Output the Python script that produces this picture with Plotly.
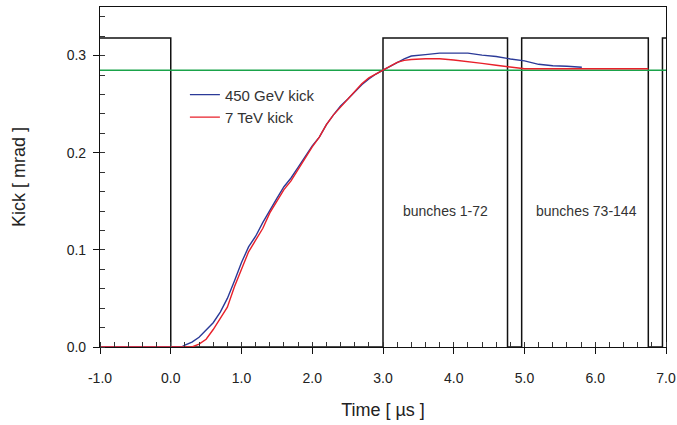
import plotly.graph_objects as go

# ---- data ----
blue_t = [-1.0, 0.0, 0.15, 0.2, 0.3, 0.4, 0.5, 0.6, 0.7, 0.8, 0.9, 1.0, 1.1, 1.2, 1.3, 1.4, 1.5,
          1.6, 1.7, 1.8, 1.9, 2.0, 2.1, 2.2, 2.3, 2.4, 2.5, 2.6, 2.7, 2.8, 2.9, 3.0, 3.1, 3.2,
          3.3, 3.4, 3.5, 3.6, 3.8, 4.0, 4.2, 4.4, 4.6, 4.8, 5.0, 5.2, 5.4, 5.6, 5.81]
blue_k = [0.0, 0.0, 0.0, 0.002, 0.005, 0.010, 0.017, 0.025, 0.036, 0.050, 0.068, 0.087, 0.103,
          0.114, 0.128, 0.141, 0.153, 0.165, 0.174, 0.185, 0.196, 0.207, 0.216, 0.229, 0.239,
          0.248, 0.255, 0.263, 0.270, 0.276, 0.281, 0.285, 0.289, 0.293, 0.2965, 0.2995,
          0.3005, 0.301, 0.3025, 0.3025, 0.3025, 0.3005, 0.299, 0.2965, 0.2945, 0.291, 0.2895,
          0.289, 0.288]

red_t = [-1.0, 0.0, 0.3, 0.4, 0.5, 0.6, 0.7, 0.8, 0.9, 1.0, 1.1, 1.2, 1.3, 1.4, 1.5, 1.6, 1.7,
         1.8, 1.9, 2.0, 2.1, 2.2, 2.3, 2.4, 2.5, 2.6, 2.7, 2.8, 2.9, 3.0, 3.1, 3.2, 3.3, 3.4,
         3.6, 3.8, 4.0, 4.2, 4.4, 4.6, 4.8, 5.0, 5.5, 6.0, 6.5, 6.75]
red_k = [0.0, 0.0, 0.0, 0.003, 0.008, 0.018, 0.030, 0.041, 0.062, 0.080, 0.098, 0.110, 0.122,
         0.138, 0.150, 0.162, 0.171, 0.183, 0.195, 0.206, 0.216, 0.229, 0.239, 0.247, 0.255,
         0.264, 0.271, 0.277, 0.281, 0.285, 0.289, 0.293, 0.295, 0.296, 0.2967, 0.2967,
         0.2955, 0.294, 0.292, 0.290, 0.288, 0.2865, 0.2865, 0.2865, 0.2865, 0.2865]

pulse_t = [-1.0, 0.0, 0.0, 3.0, 3.0, 4.76, 4.76, 4.96, 4.96, 6.75, 6.75, 6.95, 6.95, 7.0]
pulse_k = [0.318, 0.318, 0.0, 0.0, 0.318, 0.318, 0.0, 0.0, 0.318, 0.318, 0.0, 0.0, 0.318, 0.318]

flat_t = [-1.0, 7.0]
flat_k = [0.285, 0.285]

x_ticks = [-1, 0, 1, 2, 3, 4, 5, 6, 7]
x_labels = ["-1.0", "0.0", "1.0", "2.0", "3.0", "4.0", "5.0", "6.0", "7.0"]
y_ticks = [0.0, 0.1, 0.2, 0.3]
y_labels = ["0.0", "0.1", "0.2", "0.3"]

labels = ["bunches 1-72", "bunches 73-144"]
label_t = [3.88, 5.87]
label_k = [0.14, 0.14]

FONT = "Liberation Sans, Arial, sans-serif"

fig = go.Figure()
fig.add_trace(go.Scatter(x=pulse_t, y=pulse_k, mode="lines", showlegend=False,
                         line=dict(color="#111111", width=1.5)))
fig.add_trace(go.Scatter(x=flat_t, y=flat_k, mode="lines", showlegend=False,
                         line=dict(color="#1aa34a", width=1.5)))
fig.add_trace(go.Scatter(x=blue_t, y=blue_k, mode="lines", name="450 GeV kick",
                         line=dict(color="#2b3a98", width=1.4)))
fig.add_trace(go.Scatter(x=red_t, y=red_k, mode="lines", name="7 TeV kick",
                         line=dict(color="#e8202a", width=1.4)))

for txt, xt, yk in zip(labels, label_t, label_k):
    fig.add_annotation(x=xt, y=yk, text=txt, showarrow=False,
                       font=dict(family=FONT, size=14, color="#333333"))

fig.update_layout(
    width=677, height=425,
    margin=dict(l=100, r=11, t=7, b=78),
    paper_bgcolor="white", plot_bgcolor="white",
    font=dict(family=FONT, size=14, color="#222222"),
    showlegend=True,
    legend=dict(x=0.15, y=0.79, xanchor="left", yanchor="top",
                bgcolor="rgba(0,0,0,0)", font=dict(size=15, color="#333333"),
                tracegroupgap=0, itemwidth=30),
    xaxis=dict(range=[-1, 7], tickvals=x_ticks, ticktext=x_labels, automargin=False,
               showgrid=False, zeroline=False, showline=True, linecolor="#111111",
               linewidth=1.2, mirror=True, ticks="outside", ticklen=6, tickcolor="#111111",
               ticklabelstandoff=12,
               minor=dict(ticks="inside", dtick=0.2, ticklen=5, tickcolor="#333333"),
               title=dict(text="Time [ µs ]", font=dict(size=18, color="#222222"), standoff=18)),
    yaxis=dict(range=[0, 0.35], tickvals=y_ticks, ticktext=y_labels, automargin=False,
               showgrid=False, zeroline=False, showline=True, linecolor="#111111",
               linewidth=1.2, mirror=True, ticks="outside", ticklen=6, tickcolor="#111111",
               ticklabelstandoff=4,
               minor=dict(ticks="inside", dtick=0.02, ticklen=5, tickcolor="#333333"),
               title=dict(text="Kick [ mrad ]", font=dict(size=18, color="#222222"), standoff=36)),
)

fig.write_html("out.html")
